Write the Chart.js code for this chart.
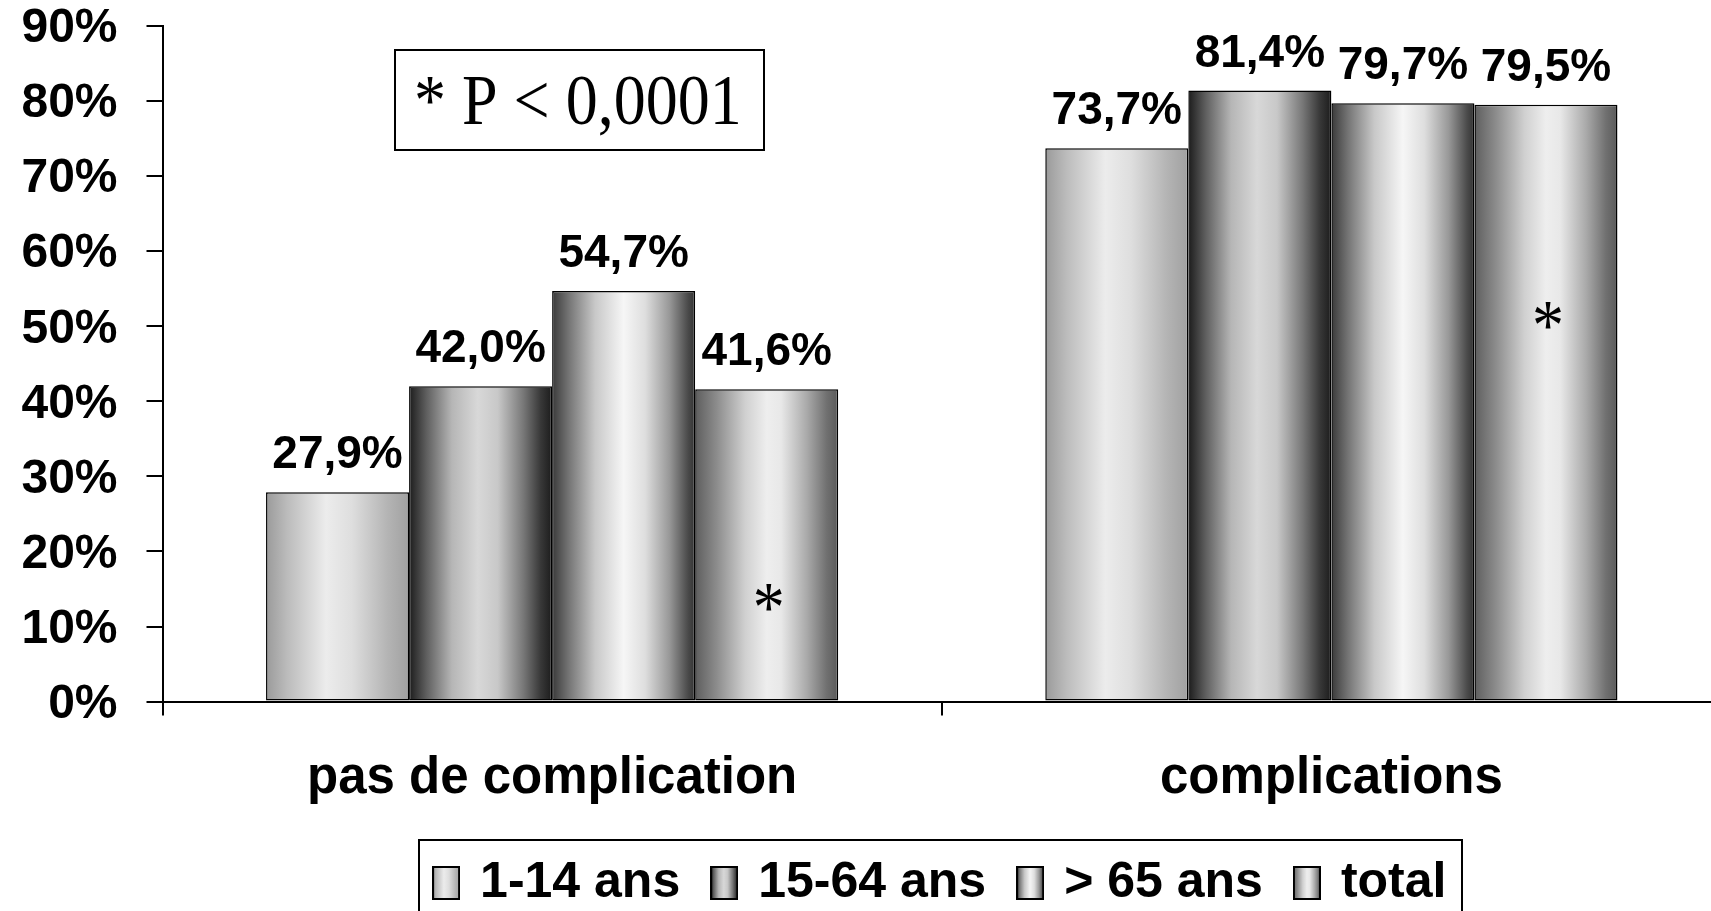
<!DOCTYPE html>
<html lang="fr">
<head>
<meta charset="utf-8">
<title>Complications selon l'âge</title>
<script src="https://cdn.jsdelivr.net/npm/chart.js@4.4.1/dist/chart.umd.min.js"></script>
<style>
  html, body { margin: 0; padding: 0; background: #ffffff; overflow: hidden; width: 1711px; height: 911px; }
  canvas { display: block; }
</style>
</head>
<body>
<canvas id="chart" width="1721" height="930"></canvas>
<script>
// ---- data ----
const categories = ['pas de complication', 'complications'];
const seriesNames = ['1-14 ans', '15-64 ans', '> 65 ans', 'total'];
const age1to14 = [27.9, 73.7];
const age15to64 = [42.0, 81.4];
const age65plus = [54.7, 79.7];
const totalAll = [41.6, 79.5];
const yTickValues = [0, 10, 20, 30, 40, 50, 60, 70, 80, 90];
const significanceNote = '* P < 0,0001';

// ---- styles ----
const SANS = '"Liberation Sans", Arial, sans-serif';
const SERIF = '"Liberation Serif", "Times New Roman", serif';
const GROUP_FRACTION = 572 / 779;

// horizontal "cylinder" shading for each series
const shades = [
  [[0, '#9a9a9a'], [0.15, '#bcbcbc'], [0.42, '#ececec'], [0.6, '#dedede'], [0.85, '#b4b4b4'], [1, '#a0a0a0']],
  [[0, '#1c1c1c'], [0.12, '#5e5e5e'], [0.3, '#b6b6b6'], [0.48, '#d8d8d8'], [0.62, '#c8c8c8'], [0.8, '#777777'], [0.92, '#383838'], [1, '#1c1c1c']],
  [[0, '#3a3a3a'], [0.12, '#767676'], [0.3, '#c8c8c8'], [0.5, '#f6f6f6'], [0.65, '#dedede'], [0.82, '#989898'], [0.95, '#4a4a4a'], [1, '#333333']],
  [[0, '#5e5e5e'], [0.15, '#8c8c8c'], [0.35, '#d0d0d0'], [0.5, '#eeeeee'], [0.6, '#e8e8e8'], [0.78, '#aaaaaa'], [0.92, '#707070'], [1, '#5a5a5a']]
];

function barShade(stops) {
  return (c) => {
    const chart = c.chart;
    const xs = chart.scales && chart.scales.x;
    if (c.type !== 'data' || !xs || !chart.chartArea) return stops[0][1];
    const n = chart.data.datasets.length;
    const catW = xs.width / xs.getLabels().length;
    const groupW = catW * GROUP_FRACTION;
    const barW = groupW / n;
    const left = xs.getPixelForValue(c.dataIndex) - groupW / 2 + c.datasetIndex * barW;
    const g = chart.ctx.createLinearGradient(left, 0, left + barW, 0);
    stops.forEach(([o, col]) => g.addColorStop(o, col));
    return g;
  };
}

// small shaded swatch used as the legend marker
function swatch(stops) {
  const w = 28, h = 34;
  const cv = document.createElement('canvas');
  cv.width = w; cv.height = h;
  const cx = cv.getContext('2d');
  const g = cx.createLinearGradient(0, 0, w, 0);
  stops.forEach(([o, col]) => g.addColorStop(o, col));
  cx.fillStyle = g;
  cx.fillRect(0, 0, w, h);
  cx.strokeStyle = '#000';
  cx.lineWidth = 2;
  cx.strokeRect(1, 1, w - 2, h - 2);
  return cv;
}
const swatches = shades.map(swatch);

const fmt = (v) => v.toFixed(1).replace('.', ',') + '%';

function serifText(ctx, text, x, y, align) {
  ctx.save();
  ctx.font = '64px ' + SERIF;
  ctx.fillStyle = '#000';
  ctx.textAlign = align;
  ctx.textBaseline = 'alphabetic';
  ctx.translate(x, y);
  ctx.scale(1, 1.12);
  ctx.fillText(text, 0, 0);
  ctx.restore();
}

// value labels above bars, significance stars and note box, legend frame
const annotations = {
  id: 'annotations',
  afterDatasetsDraw(chart) {
    const ctx = chart.ctx;
    ctx.save();
    ctx.font = 'bold 46px ' + SANS;
    ctx.fillStyle = '#000';
    ctx.textAlign = 'center';
    ctx.textBaseline = 'alphabetic';
    chart.data.datasets.forEach((ds, di) => {
      chart.getDatasetMeta(di).data.forEach((bar, i) => {
        ctx.fillText(fmt(ds.data[i]), bar.x, bar.y - 24);
      });
    });
    ctx.restore();

    // stars inside the "total" bars
    const starLevel = [9.4, 47.0];
    const ys = chart.scales.y;
    chart.getDatasetMeta(3).data.forEach((bar, i) => {
      serifText(ctx, '*', bar.x + 2, ys.getPixelForValue(starLevel[i]), 'center');
    });
  },
  afterDraw(chart) {
    const ctx = chart.ctx;
    ctx.save();
    ctx.strokeStyle = '#000';
    ctx.lineWidth = 2;
    ctx.strokeRect(395, 50, 369, 100);
    ctx.restore();
    serifText(ctx, significanceNote, 414, 124, 'left');

    const hb = chart.legend.legendHitBoxes;
    if (hb && hb.length) {
      const last = hb[hb.length - 1];
      const left = Math.round(hb[0].left - 18);
      const right = Math.round(last.left + last.width + 16);
      const top = Math.round(hb[0].top - 18);
      ctx.save();
      ctx.strokeStyle = '#000';
      ctx.lineWidth = 2;
      ctx.strokeRect(left, top, right - left, 200);
      ctx.restore();
    }
  }
};

Chart.defaults.font.family = SANS;
Chart.defaults.color = '#000';

const dataSeries = [age1to14, age15to64, age65plus, totalAll];

new Chart(document.getElementById('chart'), {
  type: 'bar',
  data: {
    labels: categories,
    datasets: dataSeries.map((vals, i) => ({
      label: seriesNames[i],
      data: vals,
      backgroundColor: barShade(shades[i]),
      borderColor: '#000',
      borderWidth: 1.5,
      borderSkipped: false,
      barPercentage: 1.0,
      categoryPercentage: GROUP_FRACTION
    }))
  },
  options: {
    responsive: false,
    animation: false,
    devicePixelRatio: 1,
    layout: { padding: { top: 26, left: 0, right: 0, bottom: 12 } },
    plugins: {
      tooltip: { enabled: false },
      legend: {
        position: 'bottom',
        fullSize: false,
        labels: {
          usePointStyle: true,
          boxWidth: 18,
          padding: 35,
          color: '#000',
          font: { size: 50, weight: 'bold', family: SANS },
          generateLabels: (chart) => chart.data.datasets.map((ds, i) => ({
            text: ds.label,
            pointStyle: swatches[i],
            fillStyle: '#cccccc',
            strokeStyle: '#000',
            lineWidth: 0,
            fontColor: '#000',
            hidden: false,
            datasetIndex: i
          }))
        }
      }
    },
    scales: {
      x: {
        offset: true,
        afterFit: (s) => { s.height = 121.4; s.paddingLeft = 0; s.paddingRight = 0; },
        border: { display: true, color: '#000', width: 2 },
        grid: { display: true, offset: true, drawOnChartArea: false, drawTicks: true, tickLength: 14, color: '#000', lineWidth: 2 },
        ticks: { padding: 33, color: '#000', font: { size: 51, weight: 'bold', family: SANS } }
      },
      y: {
        min: 0,
        max: 90,
        afterFit: (s) => { s.width = 162.5; s.paddingTop = 0; s.paddingBottom = 0; },
        afterBuildTicks: (s) => { s.ticks = yTickValues.map((v) => ({ value: v })); },
        border: { display: true, color: '#000', width: 2 },
        grid: { display: true, drawOnChartArea: false, drawTicks: true, tickLength: 16, color: '#000', lineWidth: 2 },
        ticks: {
          padding: 29,
          labelOffset: 3,
          color: '#000',
          font: { size: 48, weight: 'bold', family: SANS, lineHeight: 1 },
          callback: (v) => v + '%'
        }
      }
    }
  },
  plugins: [annotations]
});
</script>
</body>
</html>
